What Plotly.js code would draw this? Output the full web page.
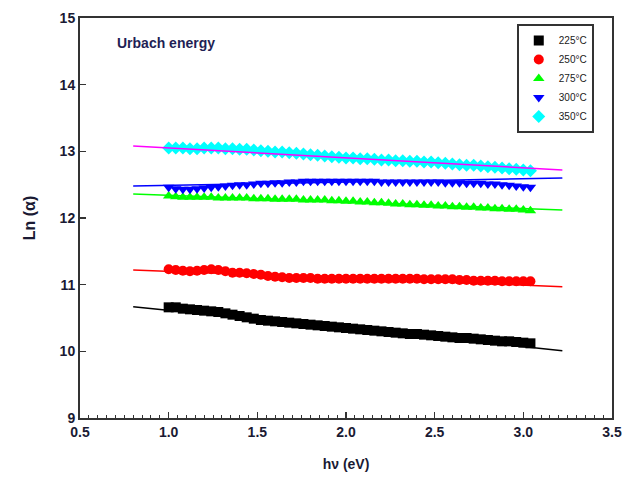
<!DOCTYPE html>
<html>
<head>
<meta charset="utf-8">
<script src="https://cdn.plot.ly/plotly-3.0.1.min.js"></script>
<style>html,body{margin:0;padding:0;background:#fff;}#chart{width:641px;height:478px;}</style>
</head>
<body>
<div id="chart"></div>
<script>
// Photon energy (eV), shared by all measured series
const hv = [1.00,1.04,1.08,1.12,1.16,1.20,1.24,1.28,1.32,1.36,1.40,1.44,1.48,1.52,1.56,1.60,1.64,1.68,1.72,1.76,1.80,1.84,1.88,1.92,1.96,2.00,2.04,2.08,2.12,2.16,2.20,2.24,2.28,2.32,2.36,2.40,2.44,2.48,2.52,2.56,2.60,2.64,2.68,2.72,2.76,2.80,2.84,2.88,2.92,2.96,3.00,3.04];

const lnA225 = [10.66,10.66,10.64,10.63,10.62,10.61,10.60,10.59,10.57,10.55,10.53,10.51,10.49,10.47,10.46,10.45,10.44,10.43,10.42,10.41,10.40,10.39,10.38,10.37,10.36,10.35,10.34,10.33,10.32,10.31,10.30,10.29,10.28,10.27,10.26,10.26,10.25,10.24,10.23,10.22,10.21,10.20,10.20,10.19,10.18,10.17,10.16,10.15,10.15,10.14,10.13,10.12];
const lnA250 = [11.23,11.22,11.21,11.20,11.21,11.22,11.23,11.22,11.20,11.18,11.18,11.17,11.16,11.15,11.13,11.12,11.11,11.10,11.10,11.10,11.10,11.09,11.09,11.09,11.09,11.09,11.09,11.09,11.09,11.09,11.09,11.09,11.09,11.09,11.09,11.09,11.08,11.08,11.08,11.08,11.08,11.07,11.07,11.06,11.06,11.06,11.06,11.05,11.05,11.05,11.05,11.05];
const lnA275 = [12.33,12.32,12.31,12.31,12.31,12.31,12.31,12.30,12.30,12.30,12.30,12.30,12.29,12.29,12.29,12.28,12.28,12.28,12.28,12.27,12.27,12.27,12.27,12.26,12.26,12.25,12.25,12.24,12.24,12.23,12.23,12.22,12.21,12.21,12.20,12.20,12.19,12.19,12.18,12.18,12.17,12.17,12.16,12.16,12.15,12.15,12.14,12.14,12.13,12.13,12.12,12.11];
const lnA300 = [12.46,12.44,12.43,12.43,12.44,12.45,12.46,12.47,12.48,12.49,12.50,12.50,12.51,12.52,12.52,12.53,12.53,12.54,12.54,12.55,12.55,12.55,12.55,12.55,12.55,12.55,12.55,12.55,12.55,12.55,12.54,12.54,12.54,12.54,12.54,12.54,12.54,12.54,12.54,12.53,12.53,12.53,12.52,12.52,12.52,12.51,12.51,12.50,12.49,12.48,12.47,12.46];
const lnA350 = [13.05,13.05,13.05,13.04,13.04,13.05,13.05,13.05,13.04,13.04,13.03,13.03,13.02,13.01,13.00,12.99,12.99,12.98,12.97,12.96,12.95,12.94,12.93,12.92,12.91,12.90,12.90,12.89,12.89,12.88,12.87,12.87,12.86,12.86,12.85,12.85,12.84,12.84,12.83,12.82,12.81,12.80,12.79,12.79,12.78,12.77,12.76,12.75,12.74,12.73,12.72,12.71];

// Linear fits (endpoints)
const fitX = [0.8, 3.22];
const fit225 = [10.67, 10.01];
const fit250 = [11.22, 10.97];
const fit275 = [12.36, 12.12];
const fit300 = [12.48, 12.60];
const fit350 = [13.08, 12.72];

const labels = ['225°C','250°C','275°C','300°C','350°C'];
const seriesY = [lnA225, lnA250, lnA275, lnA300, lnA350];
const fitsY = [fit225, fit250, fit275, fit300, fit350];
const markerColors = ['#000000','#ff0000','#00ff00','#0000ff','#00ffff'];
const fitColors = ['#000000','#ff0000','#00ff00','#0000ff','#ff00ff'];
const symbols = ['square','circle','triangle-up','triangle-down','diamond'];

const traces = [];
seriesY.forEach((y, i) => {
  traces.push({
    x: hv, y: y, type: 'scatter', mode: 'markers', name: labels[i],
    marker: {symbol: symbols[i], color: markerColors[i], size: 10, line: {width: 0}}
  });
});
fitsY.forEach((y, i) => {
  traces.push({
    x: fitX, y: y, type: 'scatter', mode: 'lines', showlegend: false,
    line: {color: fitColors[i], width: 1.5}, hoverinfo: 'skip'
  });
});

const tickFont = {family: 'Liberation Sans, Arial, sans-serif', size: 14, color: '#1a1a33', weight: 'bold'};

const layout = {
  width: 641, height: 478,
  margin: {l: 80, r: 29, t: 18, b: 60},
  paper_bgcolor: '#ffffff', plot_bgcolor: '#ffffff',
  showlegend: true,
  legend: {
    x: 0.821, y: 0.985, xanchor: 'left', yanchor: 'top',
    bgcolor: '#ffffff', bordercolor: '#333333', borderwidth: 2,
    font: {family: 'Liberation Sans, Arial, sans-serif', size: 10, color: '#1a1a1a'},
    itemwidth: 30
  },
  xaxis: {
    range: [0.5, 3.5], dtick: 0.5, tick0: 0.5, tickformat: '.1f',
    ticks: 'inside', ticklen: 6, tickwidth: 1.5, tickcolor: '#333',
    minor: {dtick: 0.05, ticks: 'inside', ticklen: 3, tickcolor: '#333', tickwidth: 1},
    showline: true, mirror: true, linecolor: '#333', linewidth: 2,
    showgrid: false, zeroline: false,
    tickfont: tickFont,
    title: {text: 'hν (eV)', font: {family: 'Liberation Sans, Arial, sans-serif', size: 14, color: '#1a1a33', weight: 'bold'}, standoff: 20}
  },
  yaxis: {
    range: [9, 15], dtick: 1,
    ticks: 'inside', ticklen: 6, tickwidth: 1.5, tickcolor: '#333',
    showline: true, mirror: true, linecolor: '#333', linewidth: 2,
    showgrid: false, zeroline: false,
    tickfont: tickFont,
    title: {text: 'Ln (α)', font: {family: 'Liberation Sans, Arial, sans-serif', size: 16, color: '#1a1a33', weight: 'bold'}, standoff: 20}
  },
  annotations: [{
    text: 'Urbach energy', xref: 'paper', yref: 'paper', x: 0.066, y: 0.9375,
    xanchor: 'left', yanchor: 'middle', showarrow: false,
    font: {family: 'Liberation Sans, Arial, sans-serif', size: 14, color: '#1f1f55', weight: 'bold'}
  }]
};

Plotly.newPlot('chart', traces, layout, {displayModeBar: false, staticPlot: true});
</script>
</body>
</html>
